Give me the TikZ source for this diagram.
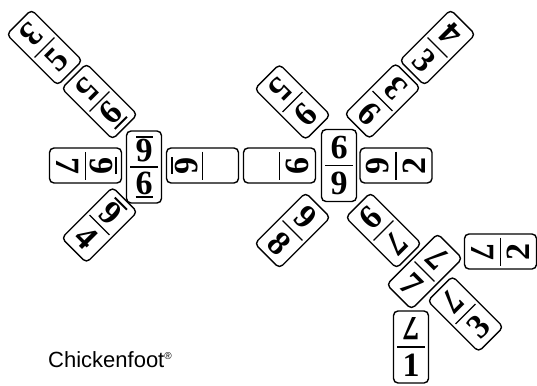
\documentclass[tikz,border=0pt]{standalone}
\usepackage{fontspec}
\usepackage{graphicx}
\newfontfamily\labelfont{Liberation Sans}
\newfontfamily\digitfont{Liberation Serif}
\tikzset{
  dom/.style={draw,line width=1.4pt,rounded corners=4.5pt,minimum width=72pt,minimum height=35pt,inner sep=0pt,fill=white},
  divider/.style={line width=1.2pt},
  dig/.style={inner sep=0pt,font=\digitfont\fontsize{34}{34}\selectfont\bfseries},
}
\newcommand\ud[1]{\vtop{\hbox{#1}\kern1.5pt\hrule height 2pt}}
% name, x, y, angle of the long axis, digit on -x half, its turn, digit on +x half, its turn
\newcommand\dominoturn[8]{%
  \begin{scope}[shift={(#2,-#3)},rotate=#4,transform shape]
    \node[dom] (#1) at (0,0) {};
    \draw[divider] (0,-14) -- (0,14);
    \node[dig,rotate=#6] (#1n) at (-18,0) {#5};
    \node[dig,rotate=#8] (#1p) at (18,0) {#7};
  \end{scope}}
% tops of the digits turned toward the middle line
\newcommand\domino[6]{\dominoturn{#1}{#2}{#3}{#4}{#5}{-90}{#6}{90}}
\begin{document}
\begin{tikzpicture}[x=1pt,y=1pt]
\useasboundingbox (0,0) rectangle (537,-385);
% left chickenfoot
\domino{dA}{144}{167}{90}{\ud{6}}{\ud{6}}
\domino{dB}{85.5}{165.5}{0}{7}{\ud{6}}
\domino{dC}{202.5}{165.5}{180}{}{\ud{6}}
\domino{dG}{99.5}{101.5}{-45}{5}{\ud{6}}
\domino{dH}{44.5}{47.5}{-45}{3}{5}
\domino{dI}{99.5}{225}{45}{4}{\ud{6}}
% right chickenfoot
\domino{dD}{279.5}{165.5}{0}{}{6}
\domino{dE}{339}{165.5}{90}{9}{9}
\domino{dF}{396}{165.5}{180}{2}{6}
\domino{dJ}{292.5}{102}{-45}{5}{6}
\domino{dK}{382.5}{101}{225}{3}{6}
\domino{dL}{437.5}{47.5}{225}{4}{3}
\domino{dM}{292.5}{230.5}{45}{8}{6}
\dominoturn{dN}{383.5}{230.5}{135}{7}{90}{6}{-90}
% double seven and its toes
\domino{dO}{424.5}{271.5}{45}{7}{7}
\domino{dP}{500.5}{251.5}{180}{2}{7}
\domino{dQ}{465.5}{314}{135}{3}{7}
\domino{dR}{411}{347}{90}{1}{7}
% caption
\node[font=\labelfont\fontsize{22}{22}\selectfont,anchor=base west,inner sep=0pt] (title) at (48,-367) {Chickenfoot\raisebox{8pt}{\fontsize{10}{10}\selectfont ®}};
\end{tikzpicture}
\end{document}
